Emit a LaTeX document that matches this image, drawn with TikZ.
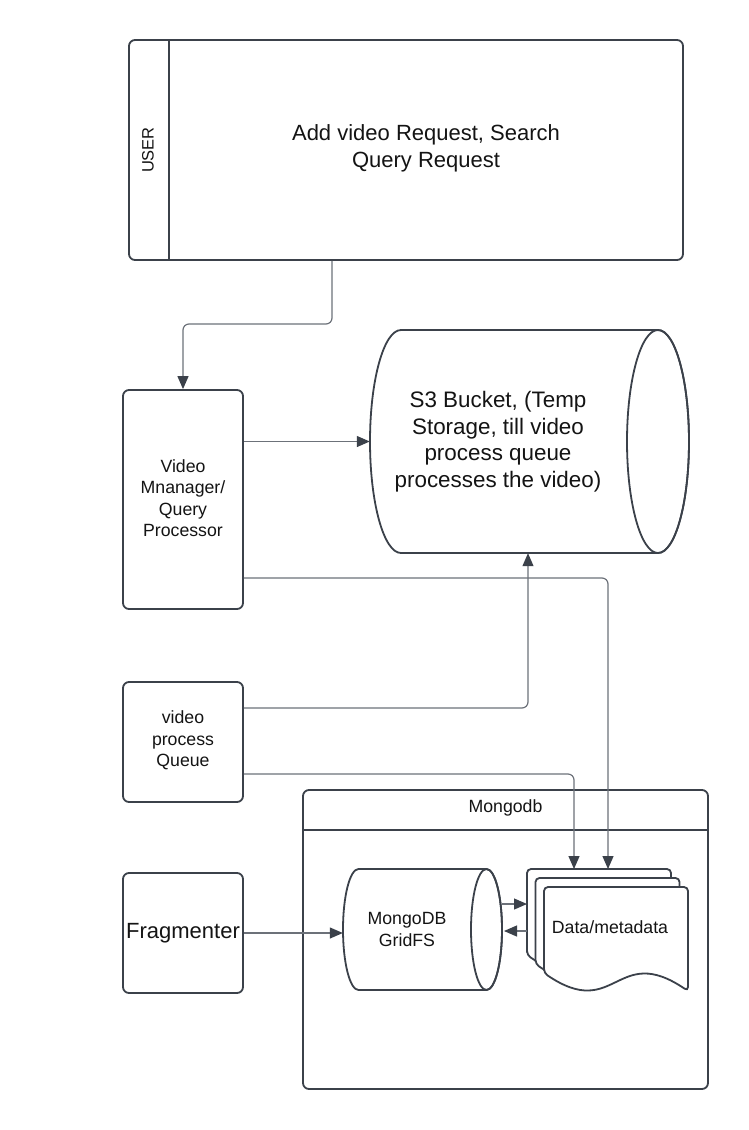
\documentclass[tikz,border=0pt]{standalone}
\usepackage{fontspec}
\setmainfont{Liberation Sans}
\usetikzlibrary{arrows.meta,calc}
\definecolor{shp}{RGB}{59,65,74}
\definecolor{conncol}{RGB}{108,113,121}
\definecolor{txt}{RGB}{20,20,20}
\begin{document}
\begin{tikzpicture}[x=1pt,y=-1pt,
  box/.style={draw=shp, line width=1.8pt, rounded corners=6pt, fill=white, minimum width=120pt, inner sep=0pt, align=center, text=txt},
  conn/.style={draw=conncol, line width=1.2pt, rounded corners=6pt, -{Triangle[length=13pt,width=11pt,color=shp]}},
  shapeline/.style={draw=shp, line width=1.8pt},
  big/.style={font=\fontsize{22}{27}\selectfont},
  small/.style={font=\fontsize{17.7}{21.5}\selectfont},
  lbl/.style={inner sep=0pt, align=center, text=txt}]
\useasboundingbox (0,0) rectangle (748,1130);

% ---------- USER ----------
\node[box, minimum width=554pt, minimum height=220pt] (user) at (406,150) {};
\draw[shapeline] (169,40) -- (169,260);
\node[lbl, rotate=90, font=\fontsize{16.5}{20}\selectfont] (userlbl) at (148,150) {USER};
\node[lbl, big] (usertxt) at (426,148) {Add video Request, Search\\Query Request};

% ---------- left column ----------
\node[box, small, minimum height=219pt] (vm) at (183,499.5) {};
\node[lbl, small] (vmtxt) at (183,498) {Video\\Mnanager/\\Query\\Processor};
\node[box, small, minimum height=120pt] (vq) at (183,742) {};
\node[lbl, small] (vqtxt) at (183,740.5) {video\\process\\Queue};
\node[box, big, minimum height=120pt] (frag) at (183,933) {Fragmenter};

% ---------- S3 cylinder ----------
\draw[shapeline, fill=white] (401,330) -- (658,330)
  .. controls (675.1,330) and (689,379.9) .. (689,441.5)
  .. controls (689,503.1) and (675.1,553) .. (658,553)
  -- (401,553)
  .. controls (383.9,553) and (370,503.1) .. (370,441.5)
  .. controls (370,379.9) and (383.9,330) .. (401,330) -- cycle;
\draw[shapeline] (658,441.5) ellipse [x radius=31, y radius=111.5];
\node[lbl, minimum width=256pt, minimum height=223pt, font=\fontsize{22.4}{26.5}\selectfont] (s3) at (498,441.5)
  {S3 Bucket, (Temp\\Storage, till video\\process queue\\processes the video)};

% ---------- Mongodb container ----------
\node[box, minimum width=405pt, minimum height=299pt] (mongo) at (505.5,939.5) {};
\coordinate (hdr) at (0,830);
\draw[shapeline] (mongo.west |- hdr) -- (mongo.east |- hdr);
\node[lbl, small] (mongotitle) at (505.5,808) {Mongodb};

% GridFS cylinder
\draw[shapeline, fill=white] (358.5,869) -- (486.5,869)
  .. controls (495.06,869) and (502,896.09) .. (502,929.5)
  .. controls (502,962.91) and (495.06,990) .. (486.5,990)
  -- (358.5,990)
  .. controls (349.94,990) and (343,962.91) .. (343,929.5)
  .. controls (343,896.09) and (349.94,869) .. (358.5,869) -- cycle;
\draw[shapeline] (486.5,929.5) ellipse [x radius=15.5, y radius=60.5];
\node[lbl, small, minimum width=128pt, minimum height=121pt] (gfs) at (407,929.5) {MongoDB\\GridFS};

% document stack
\foreach \xo/\yo in {527/869, 535.5/878, 544/887}{
  \draw[shapeline, fill=white, rounded corners=4pt]
    (\xo,\yo+86) -- (\xo,\yo) -- (\xo+144,\yo) -- (\xo+144,\yo+104)
    .. controls (\xo+72,\yo+55) and (\xo+72,\yo+135) .. cycle;
}
\node[lbl, small] (dm) at (610,927) {Data/metadata};
\coordinate (dtop) at (0,869);
\coordinate (dleft) at (527,0);

% ---------- connectors ----------
\coordinate (u1) at (332,324);
\draw[conn] (user.south -| u1) -- (u1) -| (vm.north);
\draw[conn] (vm.east |- s3.west) -- (s3.west);
\coordinate (m1) at (608,578);
\draw[conn] (vm.east |- m1) -- (m1) -- (m1 |- dtop);
\coordinate (q1) at (528,708);
\draw[conn] (vq.east |- q1) -- (q1) -- (q1 |- s3.south);
\coordinate (q2) at (574,774);
\draw[conn] (vq.east |- q2) -- (q2) -- (q2 |- dtop);
\draw[conn] (frag.east) -- (frag.east -| gfs.west);
\coordinate (g1) at (502,904);
\draw[conn] (g1) -- (g1 -| dleft);
\coordinate (g2) at (504,931);
\draw[conn] (g2 -| dleft) -- (g2);
\end{tikzpicture}
\end{document}
